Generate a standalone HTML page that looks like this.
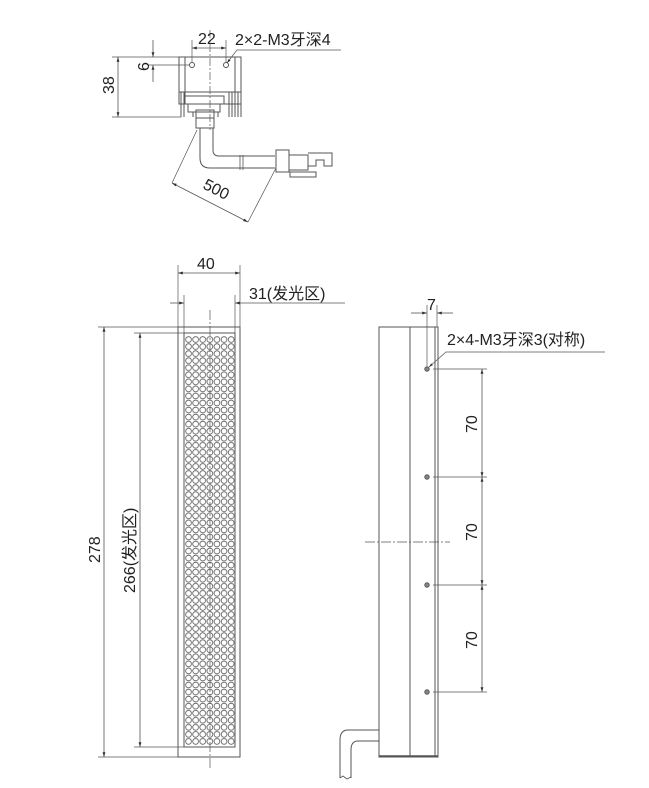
<!DOCTYPE html>
<html><head><meta charset="utf-8"><style>
html,body{margin:0;padding:0;background:#fff;}
svg{display:block;}
text{font-family:"Liberation Sans","Noto Sans CJK SC",sans-serif;fill:#222;}
</style></head><body>
<svg width="649" height="788" viewBox="0 0 649 788" xmlns="http://www.w3.org/2000/svg">
<defs>
<marker id="a" viewBox="0 0 10 10" refX="10" refY="5" markerWidth="6" markerHeight="6" orient="auto-start-reverse"><path d="M0,2 L10,5 L0,8 z" fill="#333"/></marker>
<pattern id="led" x="185" y="336" width="7.1" height="7.05" patternUnits="userSpaceOnUse">
<circle cx="3.55" cy="3.5" r="2.9" fill="none" stroke="#555" stroke-width="0.8"/>
</pattern>
</defs>
<g stroke="#555" stroke-width="1" fill="none">
<rect x="179" y="57" width="62" height="47"/>
<line x1="185" y1="57" x2="185" y2="104"/>
<line x1="235" y1="57" x2="235" y2="104"/>
<circle cx="192" cy="65" r="2.5"/><circle cx="226" cy="65" r="2.5"/>
<line x1="179" y1="92" x2="241" y2="92"/>
<path d="M181,92 V117 M184,92 V117 M229,92 V117 M232,92 V117 M235,92 V117 M238,92 V117 M241,92 V117"/>
<rect x="184" y="96" width="40" height="8"/>
<rect x="188" y="104" width="32" height="8"/>
<path d="M193,112 V117 M196,112 V117 M214,112 V117 M218,112 V117"/>
<rect x="196" y="110" width="18" height="18"/>
<line x1="196" y1="118" x2="214" y2="118"/>
<path d="M200,128 V158 Q200,168 210,168 H275 M213,128 V150 Q213,156 219,156 H275"/>
<path d="M240,155 V170 M243,155 V170" stroke-width="0.8"/>
<rect x="276" y="150" width="13" height="22"/>
<path d="M289,155 H308 V170 H289 M308,153 H332 V166 H324 V160 H316 V166 H308"/>
<path d="M290,172 H316 V177 H290 Z"/>
<line x1="210" y1="30" x2="210" y2="130" stroke-dasharray="8,2,2,2" stroke-width="0.7"/>
<line x1="112" y1="57" x2="179" y2="57" stroke-width="0.7"/>
<line x1="112" y1="117" x2="181" y2="117" stroke-width="0.7"/>
<line x1="118" y1="57" x2="118" y2="117" marker-start="url(#a)" marker-end="url(#a)" stroke-width="0.8"/>
<line x1="148" y1="65" x2="190" y2="65" stroke-width="0.7"/>
<line x1="153" y1="40" x2="153" y2="57" marker-end="url(#a)" stroke-width="0.8"/>
<line x1="153" y1="82" x2="153" y2="65" marker-end="url(#a)" stroke-width="0.8"/>
<line x1="192" y1="40" x2="192" y2="62" stroke-width="0.7"/>
<line x1="226" y1="40" x2="226" y2="62" stroke-width="0.7"/>
<line x1="192" y1="48" x2="226" y2="48" marker-start="url(#a)" marker-end="url(#a)" stroke-width="0.8"/>
<path d="M341,50 H237 L227,63" stroke-width="0.7" marker-end="url(#a)"/>
<line x1="197" y1="130" x2="172" y2="183" stroke-width="0.7"/>
<line x1="276" y1="168" x2="248" y2="222" stroke-width="0.7"/>
<line x1="172" y1="183" x2="248" y2="222" marker-start="url(#a)" marker-end="url(#a)" stroke-width="0.8"/>

<rect x="178" y="327" width="62" height="430"/>
<rect x="184" y="333" width="51" height="414"/>
<rect x="185" y="336" width="50" height="409" fill="url(#led)" stroke="none"/>
<line x1="210" y1="310" x2="210" y2="770" stroke-dasharray="10,2,2,2" stroke-width="0.7"/>
<line x1="178" y1="265" x2="178" y2="327" stroke-width="0.7"/>
<line x1="240" y1="265" x2="240" y2="327" stroke-width="0.7"/>
<line x1="178" y1="273" x2="240" y2="273" marker-start="url(#a)" marker-end="url(#a)" stroke-width="0.8"/>
<line x1="184" y1="295" x2="184" y2="333" stroke-width="0.7"/>
<line x1="235" y1="295" x2="235" y2="333" stroke-width="0.7"/>
<line x1="170" y1="303" x2="184" y2="303" marker-end="url(#a)" stroke-width="0.8"/>
<line x1="345" y1="303" x2="235" y2="303" marker-end="url(#a)" stroke-width="0.8"/>
<line x1="98" y1="327" x2="178" y2="327" stroke-width="0.7"/>
<line x1="98" y1="757" x2="178" y2="757" stroke-width="0.7"/>
<line x1="104" y1="327" x2="104" y2="757" marker-start="url(#a)" marker-end="url(#a)" stroke-width="0.8"/>
<line x1="134" y1="333" x2="184" y2="333" stroke-width="0.7"/>
<line x1="134" y1="747" x2="184" y2="747" stroke-width="0.7"/>
<line x1="140" y1="333" x2="140" y2="747" marker-start="url(#a)" marker-end="url(#a)" stroke-width="0.8"/>

<rect x="379" y="327" width="59" height="430"/>
<line x1="410" y1="327" x2="410" y2="757"/>
<line x1="435" y1="327" x2="435" y2="757"/>
<line x1="379" y1="756" x2="438" y2="756" stroke-width="1.5"/>
<line x1="365" y1="542" x2="450" y2="542" stroke-dasharray="10,2,2,2" stroke-width="0.7"/>
<g fill="#888"><circle cx="427" cy="369" r="2.2"/><circle cx="427" cy="477" r="2.2"/><circle cx="427" cy="585" r="2.2"/><circle cx="427" cy="692" r="2.2"/></g>
<path d="M433,369 H487 M433,477 H487 M433,585 H487 M433,692 H487" stroke-width="0.7"/>
<line x1="482" y1="369" x2="482" y2="477" marker-start="url(#a)" marker-end="url(#a)" stroke-width="0.8"/>
<line x1="482" y1="477" x2="482" y2="585" marker-start="url(#a)" marker-end="url(#a)" stroke-width="0.8"/>
<line x1="482" y1="585" x2="482" y2="692" marker-start="url(#a)" marker-end="url(#a)" stroke-width="0.8"/>
<line x1="427" y1="305" x2="427" y2="366" stroke-width="0.7"/>
<line x1="437" y1="305" x2="437" y2="327" stroke-width="0.7"/>
<line x1="411" y1="313" x2="427" y2="313" marker-end="url(#a)" stroke-width="0.8"/>
<line x1="453" y1="313" x2="437" y2="313" marker-end="url(#a)" stroke-width="0.8"/>
<path d="M605,352 H446 L429,367" stroke-width="0.7" marker-end="url(#a)"/>
<path d="M379,730 H348 Q340,730 340,740 V778 M379,741 H358 Q351,741 351,750 V778"/>
<path d="M340,778 L343,776 L347,779 L351,777" stroke-width="0.8"/>
</g>
<text x="198" y="44" font-size="16">22</text>
<text x="235" y="45" font-size="16">2×2-M3牙深4</text>
<text x="0" y="0" font-size="16" transform="translate(114,94) rotate(-90)">38</text>
<text x="0" y="0" font-size="16" transform="translate(149,71) rotate(-90)">6</text>
<text x="0" y="0" font-size="16" transform="translate(202,188) rotate(27)">500</text>
<text x="197" y="269" font-size="16">40</text>
<text x="249" y="299" font-size="16">31(发光区)</text>
<text x="0" y="0" font-size="16" transform="translate(100,563) rotate(-90)">278</text>
<text x="0" y="0" font-size="16" transform="translate(135,593) rotate(-90)">266(发光区)</text>
<text x="427" y="310" font-size="16">7</text>
<text x="447" y="345" font-size="16">2×4-M3牙深3(对称)</text>
<text x="0" y="0" font-size="16" transform="translate(477,433) rotate(-90)">70</text>
<text x="0" y="0" font-size="16" transform="translate(477,541) rotate(-90)">70</text>
<text x="0" y="0" font-size="16" transform="translate(477,649) rotate(-90)">70</text>
</svg>
</body></html>
